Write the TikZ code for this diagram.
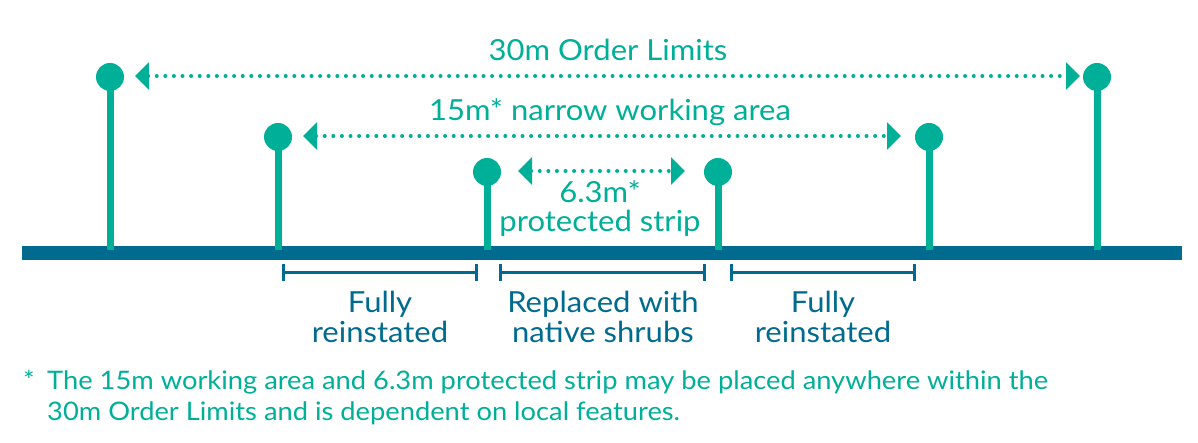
\documentclass[tikz,border=0pt]{standalone}
\usepackage{fontspec}
\setmainfont{Lato}[FakeStretch=1.07]
\usetikzlibrary{arrows.meta}
\definecolor{teal1}{HTML}{00AF98}
\definecolor{navy1}{HTML}{006B8F}
\tikzset{
  post/.style={teal1, line width=7pt},
  knob/.style={circle, fill=teal1, minimum size=28pt, inner sep=0pt},
  dotline/.style={teal1, line width=4pt, line cap=round, dash pattern=on 0pt off 8.6pt,
     {Triangle[length=14pt,width=27pt]}-{Triangle[length=14pt,width=27pt]}},
  base/.style={navy1, line width=14pt},
  brk/.style={navy1, line width=3pt, {Bar[width=17pt,line width=3pt]}-{Bar[width=17pt,line width=3pt]}},
  lbl/.style={teal1, font=\fontsize{29}{30}\selectfont, inner sep=0pt, anchor=base},
  blbl/.style={navy1, font=\fontsize{29}{30}\selectfont, inner sep=0pt, align=center, anchor=base},
  fnote/.style={teal1, font=\fontsize{25.5}{31.5}\selectfont, inner sep=0pt, anchor=base west},
}
\begin{document}
\begin{tikzpicture}[x=1pt,y=-1pt]
\useasboundingbox (0,0) rectangle (1198,443);
% base bar
\coordinate (bl) at (22,253);
\coordinate (br) at (1182,253);
\draw[base] (bl) -- (br);
% posts
\foreach \n/\x/\y in {p1/110/77, p2/278/137, p3/487/172, p4/718/172, p5/929/137, p6/1097/77}{
  \coordinate (\n b) at (\x,250);
  \node[knob] (\n) at (\x,\y) {};
  \draw[post] (\n b) -- (\n.center);
}
% dimension arrows
\coordinate (a1l) at (135,76);
\coordinate (a1r) at (1080,76);
\draw[dotline] (a1l) -- (a1r);
\coordinate (a2l) at (303,136);
\coordinate (a2r) at (901,136);
\draw[dotline] (a2l) -- (a2r);
\coordinate (a3l) at (518,171);
\coordinate (a3r) at (685,171);
\draw[dotline] (a3l) -- (a3r);
% labels
\node[lbl] (t1) at (608,61) {30m Order Limits};
\node[lbl] (t2) at (610,121) {15m* narrow working area};
\node[lbl] (t3) at (600,203) {6.3m*};
\node[lbl] (t4) at (600,232) {protected strip};
% brackets
\coordinate (b1l) at (282,273); \coordinate (b1r) at (478,273);
\coordinate (b2l) at (499,273); \coordinate (b2r) at (706,273);
\coordinate (b3l) at (730,273); \coordinate (b3r) at (916,273);
\draw[brk] (b1l) -- (b1r);
\draw[brk] (b2l) -- (b2r);
\draw[brk] (b3l) -- (b3r);
\node[blbl] (l1) at (380,342) {Fully\\reinstated};
\node[blbl] (l2) at (603,342) {Replaced with\\native shrubs};
\node[blbl] (l3) at (823,342) {Fully\\reinstated};
% footnote
\node[fnote] (fs) at (23,389) {*};
\node[fnote, align=left] (fn) at (47,420.5) {The 15m working area and 6.3m protected strip may be placed anywhere within the\\30m Order Limits and is dependent on local features.};
\end{tikzpicture}
\end{document}
